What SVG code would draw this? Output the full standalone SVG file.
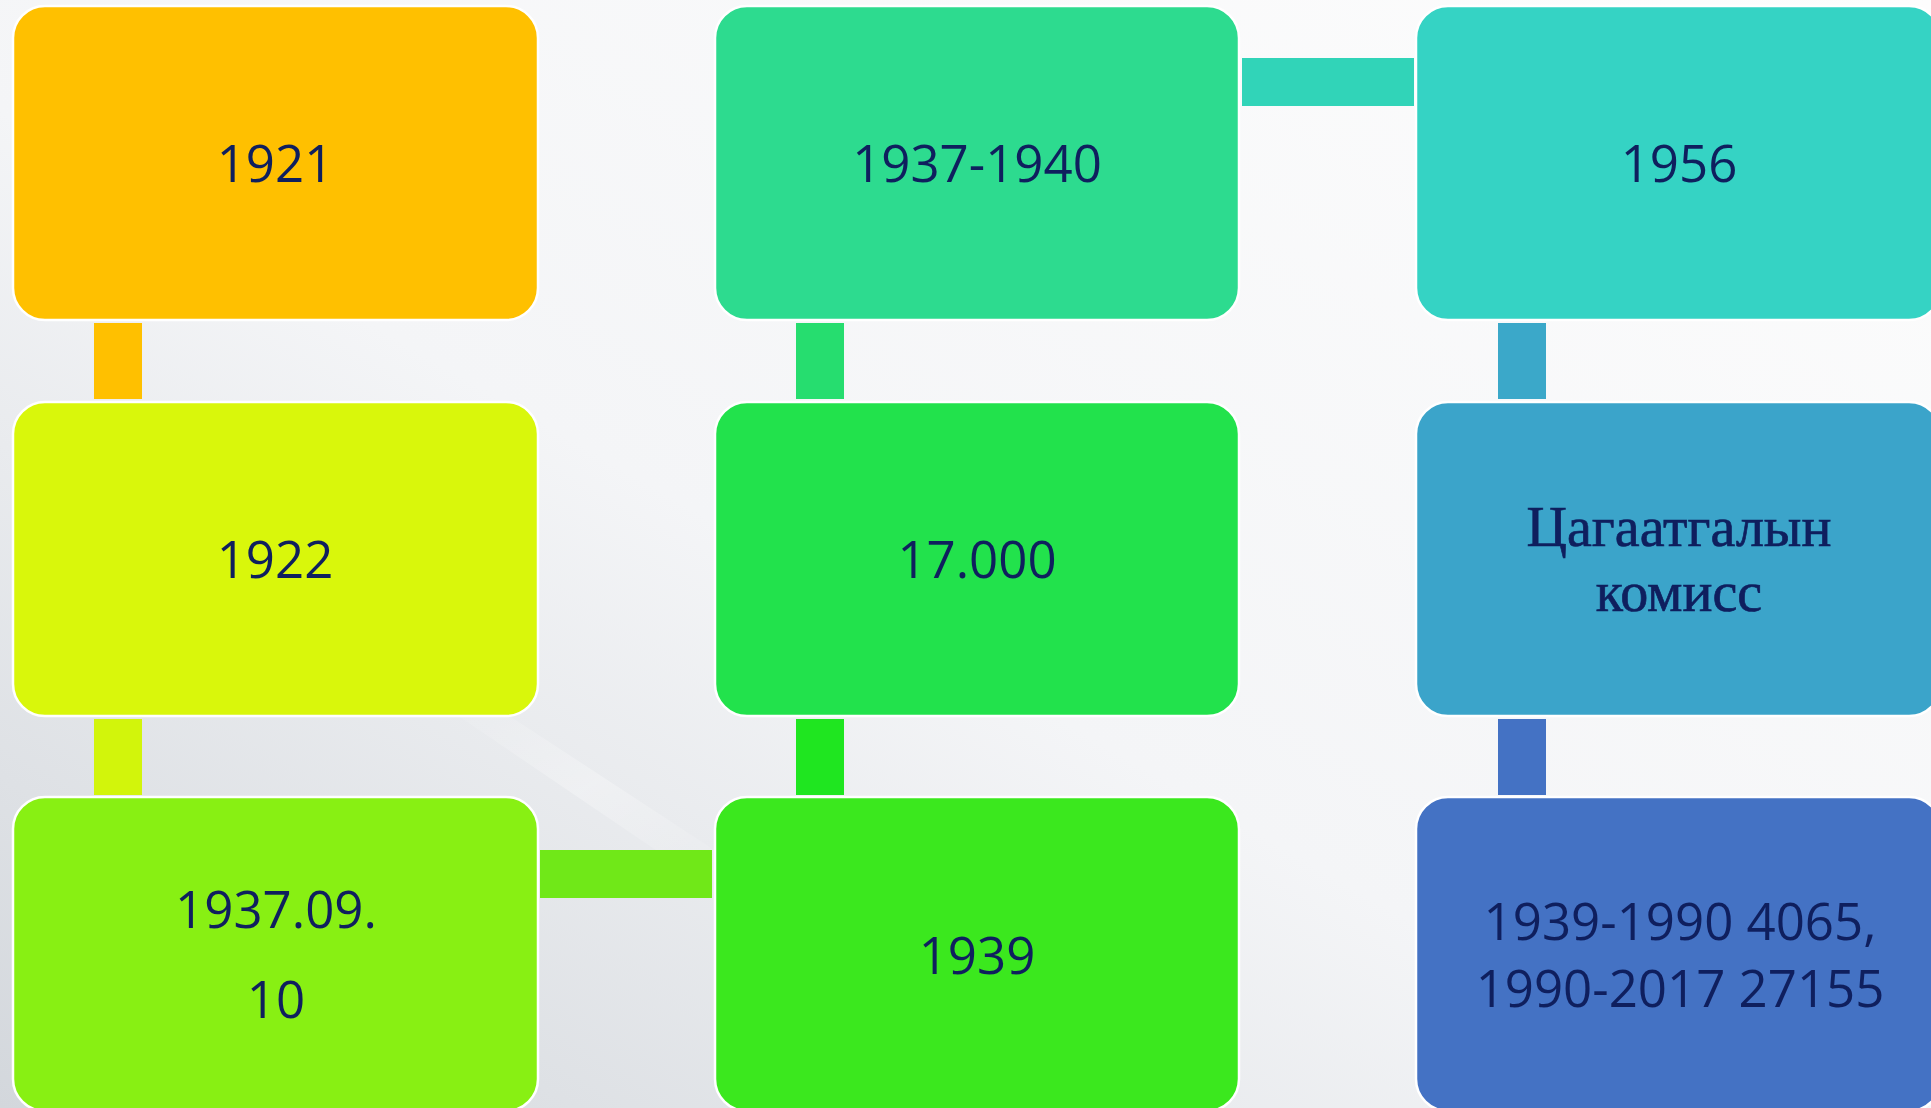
<svg xmlns="http://www.w3.org/2000/svg" width="1931" height="1108" viewBox="0 0 1931 1108">
  <defs>
    <linearGradient id="bg" x1="1" y1="0" x2="0" y2="1">
      <stop offset="0" stop-color="#fdfdfd"/>
      <stop offset="0.55" stop-color="#f4f5f7"/>
      <stop offset="1" stop-color="#d3d7dc"/>
    </linearGradient>
    <linearGradient id="streak" x1="0" y1="0" x2="1" y2="1">
      <stop offset="0" stop-color="#ffffff" stop-opacity="0"/>
      <stop offset="0.5" stop-color="#ffffff" stop-opacity="0.7"/>
      <stop offset="1" stop-color="#ffffff" stop-opacity="0"/>
    </linearGradient>
    <style>
      .box { stroke: #ffffff; stroke-width: 2.5; }
      .lbl { font-family: "Open Sans", "Noto Sans", "Liberation Sans", sans-serif; font-size: 51px; fill: #0f1f5e; text-anchor: middle; }
      .ser { font-family: "Liberation Serif", "DejaVu Serif", serif; font-size: 56px; fill: #0f1f5e; stroke: #0f1f5e; stroke-width: 0.7; text-anchor: middle; }
    </style>
  </defs>
  <rect x="0" y="0" width="1931" height="1108" fill="url(#bg)"/>
  <polygon points="420,690 470,690 760,880 700,880" fill="url(#streak)" opacity="0.4"/>

  <g id="connectors">
    <rect x="94" y="323" width="48" height="76" fill="#ffc000"/>
    <rect x="94" y="719" width="48" height="76" fill="#d2f50b"/>
    <rect x="540" y="850" width="172" height="48" fill="#70e818"/>
    <rect x="796" y="323" width="48" height="76" fill="#26dd6f"/>
    <rect x="796" y="719" width="48" height="76" fill="#1fe620"/>
    <rect x="1242" y="58" width="172" height="48" fill="#31d4b8"/>
    <rect x="1498" y="323" width="48" height="76" fill="#3ba8c9"/>
    <rect x="1498" y="719" width="48" height="76" fill="#4472c4"/>
  </g>

  <g id="n1921">
    <rect class="box" x="13" y="6" width="525" height="314" rx="32" fill="#ffc000"/>
    <text class="lbl" x="275" y="182">1921</text>
  </g>
  <g id="n1922">
    <rect class="box" x="13" y="402" width="525" height="314" rx="32" fill="#d9f70b"/>
    <text class="lbl" x="275" y="578">1922</text>
  </g>
  <g id="n1937-09-10">
    <rect class="box" x="13" y="797" width="525" height="314" rx="32" fill="#88f013"/>
    <text class="lbl" x="276" y="928">1937.09.</text>
    <text class="lbl" x="276" y="1018">10</text>
  </g>
  <g id="n1937-1940">
    <rect class="box" x="715" y="6" width="524" height="314" rx="32" fill="#2ddb8f"/>
    <text class="lbl" x="977" y="182">1937-1940</text>
  </g>
  <g id="n17000">
    <rect class="box" x="715" y="402" width="524" height="314" rx="32" fill="#22e24c"/>
    <text class="lbl" x="977" y="578">17.000</text>
  </g>
  <g id="n1939">
    <rect class="box" x="715" y="797" width="524" height="314" rx="32" fill="#3be81e"/>
    <text class="lbl" x="977" y="974">1939</text>
  </g>
  <g id="n1956">
    <rect class="box" x="1416" y="6" width="525" height="314" rx="32" fill="#35d3c4"/>
    <text class="lbl" x="1679" y="182">1956</text>
  </g>
  <g id="ncommission">
    <rect class="box" x="1416" y="402" width="525" height="314" rx="32" fill="#3ba4ca"/>
    <text class="ser" x="1679" y="546">Цагаатгалын</text>
    <text class="ser" x="1679" y="611">комисс</text>
  </g>
  <g id="ncounts">
    <rect class="box" x="1416" y="797" width="525" height="314" rx="32" fill="#4472c4"/>
    <text class="lbl" x="1680" y="940">1939-1990 4065,</text>
    <text class="lbl" x="1680" y="1007">1990-2017 27155</text>
  </g>
</svg>
